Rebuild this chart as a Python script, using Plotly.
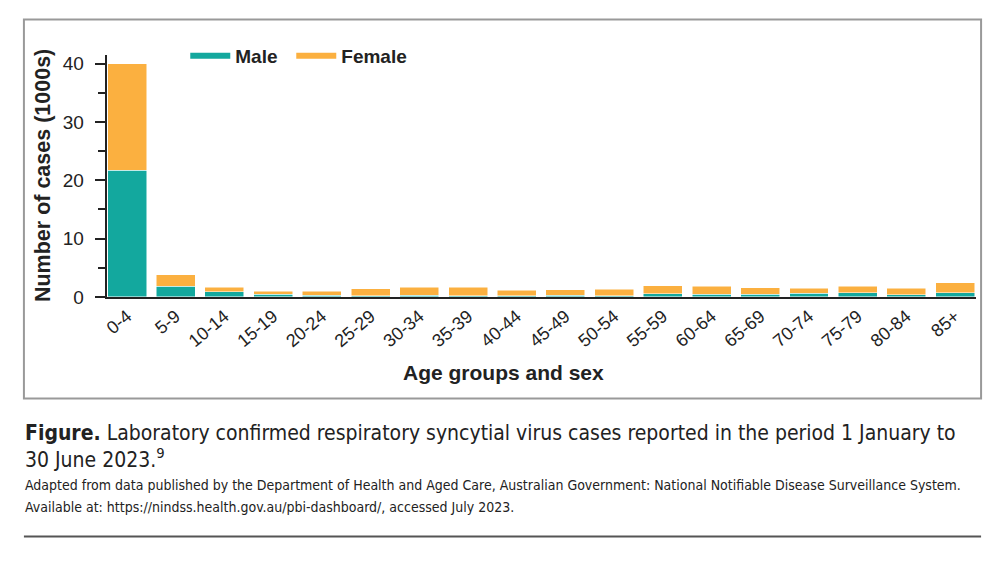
import plotly.graph_objects as go

categories = ["0-4", "5-9", "10-14", "15-19", "20-24", "25-29", "30-34", "35-39", "40-44",
              "45-49", "50-54", "55-59", "60-64", "65-69", "70-74", "75-79", "80-84", "85+"]
male = [21.7, 1.8, 0.85, 0.45, 0.25, 0.2, 0.28, 0.22, 0.22, 0.32, 0.22, 0.55, 0.45, 0.45, 0.6, 0.7, 0.35, 0.7]
total = [40.0, 3.8, 1.65, 1.0, 1.0, 1.4, 1.68, 1.62, 1.12, 1.23, 1.34, 1.9, 1.8, 1.6, 1.45, 1.8, 1.45, 2.4]
female = [round(t - m, 2) for t, m in zip(total, male)]
y_ticks = [0, 10, 20, 30, 40]

TEAL = "#13A89E"
ORANGE = "#FBB040"
W, H = 1000, 565
FONT = "Liberation Sans, Arial, sans-serif"
CAP = "DejaVu Sans Condensed, sans-serif"

fig = go.Figure()
fig.add_trace(go.Bar(x=categories, y=male, marker=dict(color=TEAL, line=dict(color="white", width=0.5)),
                     showlegend=False, name="Male"))
fig.add_trace(go.Bar(x=categories, y=female, marker=dict(color=ORANGE, line=dict(color="white", width=0.5)),
                     showlegend=False, name="Female"))
# legend entries drawn as thick line symbols
fig.add_trace(go.Scatter(x=[None], y=[None], mode="lines", line=dict(color=TEAL, width=6), name="Male",
                         legendwidth=51))
fig.add_trace(go.Scatter(x=[None], y=[None], mode="lines", line=dict(color=ORANGE, width=6), name="Female",
                         legendwidth=72))

def px_x(p):
    return p / W

def px_y(p):
    return 1 - p / H

fig.update_layout(
    width=W, height=H,
    margin=dict(l=0, r=0, t=0, b=0),
    paper_bgcolor="white", plot_bgcolor="white",
    barmode="stack", bargap=0.2,
    font=dict(family=FONT, color="#222"),
    showlegend=True,
    legend=dict(orientation="h", x=px_x(182), y=px_y(56), xanchor="left", yanchor="middle",
                traceorder="normal",
                font=dict(size=19, family=FONT, color="#222", weight="bold"),
                itemwidth=40, bgcolor="rgba(0,0,0,0)", tracegroupgap=0),
    xaxis=dict(domain=[px_x(103), px_x(975.5)], range=[-0.42, 17.42],
               showline=True, linecolor="#222", linewidth=2, ticks="",
               tickangle=-40, tickfont=dict(size=18, color="#222"), showgrid=False, zeroline=False),
    yaxis=dict(domain=[px_y(302.3), px_y(55)], range=[0, 41.5],
               showline=True, linecolor="#222", linewidth=2,
               ticks="outside", ticklen=10, tickwidth=1.5, tickcolor="#222",
               ticklabelstandoff=7,
               tickvals=y_ticks, tickfont=dict(size=19, color="#222"),
               minor=dict(tickvals=[5, 15, 25, 35], ticks="outside", ticklen=7, tickwidth=1.5, tickcolor="#222"),
               showgrid=False, zeroline=False),
    shapes=[
        dict(type="rect", xref="paper", yref="paper", x0=px_x(20), x1=px_x(981), y0=px_y(406), y1=px_y(19),
             line=dict(color="#999", width=2)),
        dict(type="line", xref="paper", yref="paper", x0=px_x(20), x1=px_x(981), y0=px_y(547), y1=px_y(547),
             line=dict(color="#555", width=2)),
    ],
    annotations=[
        dict(text="<b>Age groups and sex</b>", xref="paper", yref="paper", x=px_x(502), y=px_y(380),
             showarrow=False, font=dict(size=21, family=FONT, color="#222"), xanchor="center", yanchor="middle"),
        dict(text="<b>Number of cases (1000s)</b>", xref="paper", yref="paper", x=px_x(39), y=px_y(178),
             showarrow=False, textangle=-90, font=dict(size=21.5, family=FONT, color="#222"),
             xanchor="center", yanchor="middle"),
        dict(text="<b>Figure.</b> Laboratory confirmed respiratory syncytial virus cases reported in the period 1 January to<br>30 June 2023.<sup>9</sup>",
             xref="paper", yref="paper", x=px_x(19), y=px_y(427), xanchor="left", yanchor="top", align="left",
             showarrow=False, font=dict(size=21, family=CAP, color="#222")),
        dict(text="Adapted from data published by the Department of Health and Aged Care, Australian Government: National Notifiable Disease Surveillance System.",
             xref="paper", yref="paper", x=px_x(19), y=px_y(495), xanchor="left", yanchor="middle", align="left",
             showarrow=False, font=dict(size=14, family=CAP, color="#222")),
        dict(text="Available at: https://nindss.health.gov.au/pbi-dashboard/, accessed July 2023.",
             xref="paper", yref="paper", x=px_x(19), y=px_y(517), xanchor="left", yanchor="middle", align="left",
             showarrow=False, font=dict(size=14, family=CAP, color="#222")),
    ],
)

fig.write_html("out.html")
